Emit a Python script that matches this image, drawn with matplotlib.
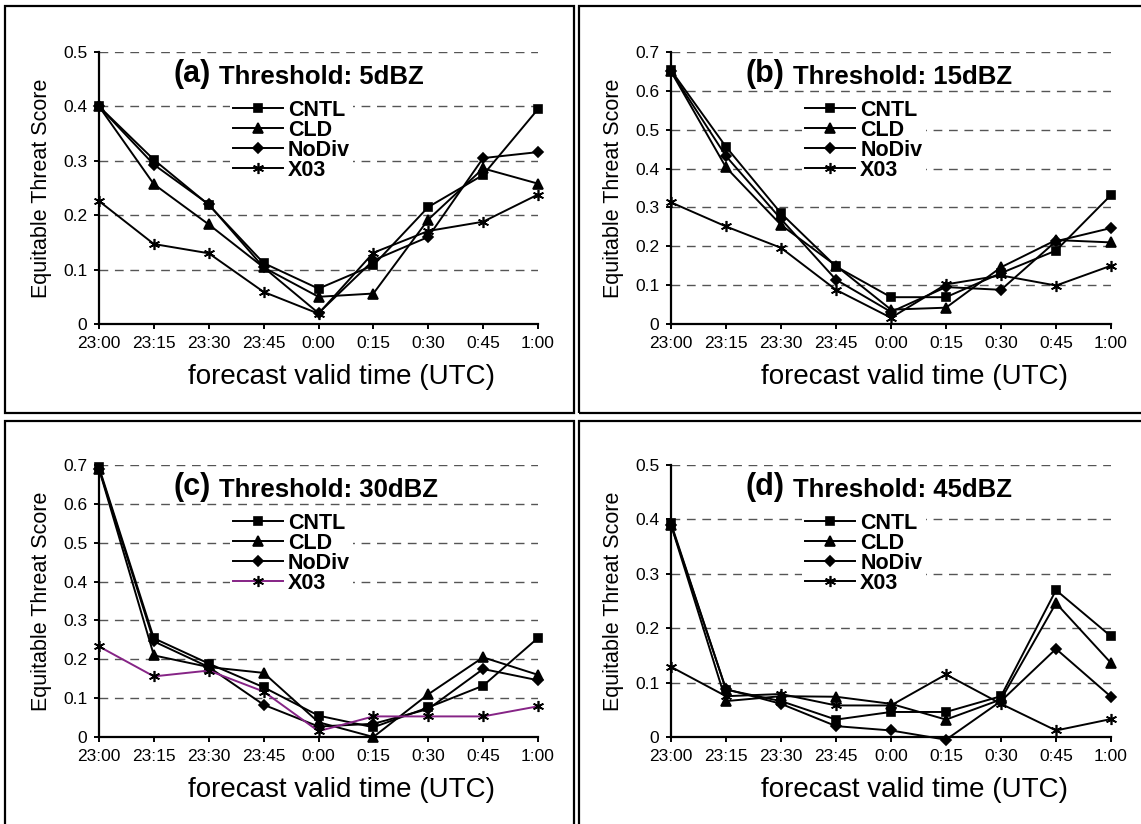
import numpy as np
import matplotlib.pyplot as plt
from matplotlib.patches import Rectangle

plt.rcParams['font.family'] = ['Liberation Sans', 'DejaVu Sans']

times = ['23:00', '23:15', '23:30', '23:45', '0:00', '0:15', '0:30', '0:45', '1:00']
names = ['CNTL', 'CLD', 'NoDiv', 'X03']

# (a) threshold 5 dBZ
cntl_a = [0.400, 0.302, 0.219, 0.112, 0.065, 0.108, 0.215, 0.274, 0.395]
cld_a = [0.400, 0.257, 0.183, 0.104, 0.050, 0.056, 0.192, 0.286, 0.258]
nodiv_a = [0.400, 0.293, 0.220, 0.104, 0.020, 0.117, 0.160, 0.305, 0.316]
x03_a = [0.226, 0.147, 0.130, 0.059, 0.019, 0.131, 0.171, 0.188, 0.238]

# (b) threshold 15 dBZ
cntl_b = [0.653, 0.456, 0.285, 0.148, 0.069, 0.069, 0.131, 0.189, 0.332]
cld_b = [0.650, 0.403, 0.255, 0.150, 0.037, 0.042, 0.146, 0.216, 0.210]
nodiv_b = [0.650, 0.432, 0.270, 0.114, 0.031, 0.095, 0.088, 0.213, 0.247]
x03_b = [0.313, 0.251, 0.196, 0.088, 0.016, 0.102, 0.125, 0.099, 0.150]

# (c) threshold 30 dBZ
cntl_c = [0.694, 0.254, 0.189, 0.128, 0.055, 0.025, 0.076, 0.132, 0.255]
cld_c = [0.690, 0.210, 0.180, 0.165, 0.038, 0.000, 0.110, 0.205, 0.160]
nodiv_c = [0.690, 0.246, 0.180, 0.083, 0.027, 0.034, 0.072, 0.175, 0.146]
x03_c = [0.233, 0.156, 0.171, 0.117, 0.015, 0.053, 0.053, 0.053, 0.079]

# (d) threshold 45 dBZ
cntl_d = [0.393, 0.087, 0.066, 0.032, 0.046, 0.046, 0.075, 0.270, 0.185]
cld_d = [0.390, 0.066, 0.075, 0.074, 0.061, 0.032, 0.069, 0.246, 0.136]
nodiv_d = [0.390, 0.088, 0.061, 0.020, 0.012, -0.005, 0.066, 0.162, 0.074]
x03_d = [0.129, 0.075, 0.079, 0.058, 0.058, 0.115, 0.061, 0.012, 0.033]

panels = [
    ('(a)', 'Threshold: 5dBZ', 0.5, [cntl_a, cld_a, nodiv_a, x03_a], 'k'),
    ('(b)', 'Threshold: 15dBZ', 0.7, [cntl_b, cld_b, nodiv_b, x03_b], 'k'),
    ('(c)', 'Threshold: 30dBZ', 0.7, [cntl_c, cld_c, nodiv_c, x03_c], '#862486'),
    ('(d)', 'Threshold: 45dBZ', 0.5, [cntl_d, cld_d, nodiv_d, x03_d], 'k'),
]

markers = ['s', '^', 'D', (6, 2, 0)]
msizes = [5.5, 6.5, 5.0, 8.0]

W, H = 1141, 824
fig = plt.figure(figsize=(W / 100, H / 100), dpi=100)

# axes boxes in pixels: left, top, right, bottom
boxes = [(99, 52, 538, 324), (671, 52, 1111, 324),
         (99, 465, 538, 737), (671, 465, 1111, 737)]
# panel frames in pixels
frames = [(5, 6, 574, 413), (579, 6, 1150, 413),
          (5, 421, 574, 830), (579, 421, 1150, 830)]

for (x0, y0, x1, y1) in frames:
    fig.add_artist(Rectangle((x0 / W, 1 - y1 / H), (x1 - x0) / W, (y1 - y0) / H,
                             transform=fig.transFigure, fill=False,
                             lw=1.6, ec='k'))

x = np.arange(len(times))
for (tag, title, ymax, series, x03col), (l, t, r, b) in zip(panels, boxes):
    ax = fig.add_axes([l / W, 1 - b / H, (r - l) / W, (b - t) / H])
    cols = ['k', 'k', 'k', x03col]
    for name, vals, m, ms, c in zip(names, series, markers, msizes, cols):
        ax.plot(x, vals, color=c, lw=1.4, marker=m, ms=ms, mfc='k', mec='k',
                mew=1.2, label=name, clip_on=False, zorder=3)

    ax.set_xlim(0, len(times) - 1)
    ax.set_ylim(0, ymax)
    yt = np.round(np.arange(0, ymax + 0.001, 0.1), 1)
    ax.set_yticks(yt)
    ax.set_yticklabels(['0'] + ['%.1f' % v for v in yt[1:]])
    ax.set_xticks(x)
    ax.set_xticklabels(times)
    ax.tick_params(direction='out', length=3.5, width=1.4, labelsize=12.5, pad=5)
    for s in ['top', 'right']:
        ax.spines[s].set_visible(False)
    for s in ['left', 'bottom']:
        ax.spines[s].set_linewidth(1.6)
    ax.yaxis.grid(True, color='#555555', linestyle=(0, (6.3, 4.8)), lw=1.0)
    ax.set_axisbelow(True)

    ax.set_xlabel('forecast valid time (UTC)', fontsize=20)
    ax.xaxis.set_label_coords(0.553, -0.148)
    ax.xaxis.label.set_va('top')
    ax.set_ylabel('Equitable Threat Score', fontsize=15.5)
    ax.yaxis.set_label_coords(-0.106, 0.5)

    t1 = ax.text(0.169, 0.89, tag, transform=ax.transAxes, fontsize=22,
                 fontweight='bold', va='baseline', ha='left')
    ax.annotate(title, xy=(1, 0), xycoords=t1, xytext=(6, 0),
                textcoords='offset points', fontsize=18.5, fontweight='bold',
                va='bottom', ha='left')

    leg = ax.legend(loc='upper left', bbox_to_anchor=(0.298, 0.837),
                    prop={'weight': 'bold', 'size': 15.5}, handlelength=2.3,
                    handletextpad=0.25, labelspacing=-0.04, borderpad=0.15,
                    borderaxespad=0, frameon=True, fancybox=False)
    leg.get_frame().set_edgecolor('none')
    leg.get_frame().set_facecolor('white')
    leg.get_frame().set_alpha(1)

fig.savefig('out.png', dpi=100)
